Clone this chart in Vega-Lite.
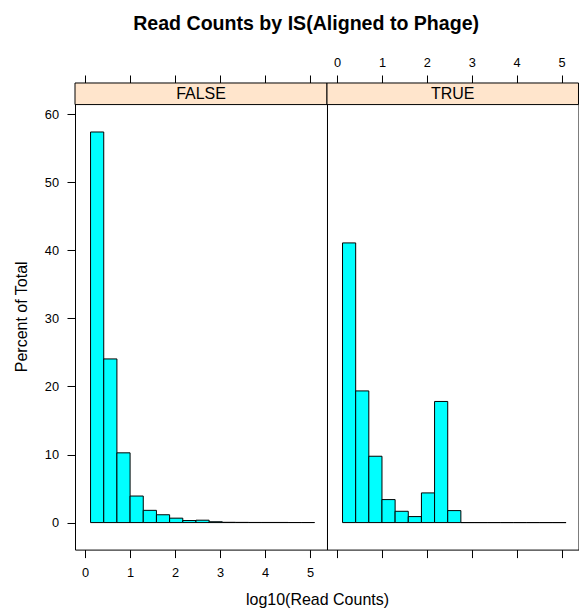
{
  "$schema": "https://vega.github.io/schema/vega-lite/v6.json",
  "padding": {"left": 12, "top": 13, "right": 0, "bottom": 0},
  "background": "white",
  "title": {"text": "Read Counts by IS(Aligned to Phage)", "font": "Liberation Sans", "fontSize": 19.6, "fontWeight": "bold", "color": "black", "anchor": "middle", "offset": 22, "dx": 6},
  "datasets": {
    "hist": [
      {"panel": "FALSE", "x0": 0.120, "x1": 0.413, "pct": 57.4},
      {"panel": "FALSE", "x0": 0.413, "x1": 0.706, "pct": 24.05},
      {"panel": "FALSE", "x0": 0.706, "x1": 0.999, "pct": 10.25},
      {"panel": "FALSE", "x0": 0.999, "x1": 1.292, "pct": 3.9},
      {"panel": "FALSE", "x0": 1.292, "x1": 1.585, "pct": 1.8},
      {"panel": "FALSE", "x0": 1.585, "x1": 1.878, "pct": 1.15},
      {"panel": "FALSE", "x0": 1.878, "x1": 2.171, "pct": 0.65},
      {"panel": "FALSE", "x0": 2.171, "x1": 2.464, "pct": 0.3},
      {"panel": "FALSE", "x0": 2.464, "x1": 2.757, "pct": 0.35},
      {"panel": "FALSE", "x0": 2.757, "x1": 3.050, "pct": 0.12},
      {"panel": "FALSE", "x0": 3.050, "x1": 3.343, "pct": 0.04},
      {"panel": "FALSE", "x0": 3.343, "x1": 3.636, "pct": 0.03},
      {"panel": "FALSE", "x0": 3.636, "x1": 3.929, "pct": 0.02},
      {"panel": "FALSE", "x0": 3.929, "x1": 4.222, "pct": 0.02},
      {"panel": "FALSE", "x0": 4.222, "x1": 4.515, "pct": 0.02},
      {"panel": "FALSE", "x0": 4.515, "x1": 4.808, "pct": 0.01},
      {"panel": "FALSE", "x0": 4.808, "x1": 5.101, "pct": 0.01},
      {"panel": "TRUE", "x0": 0.120, "x1": 0.413, "pct": 41.1},
      {"panel": "TRUE", "x0": 0.413, "x1": 0.706, "pct": 19.35},
      {"panel": "TRUE", "x0": 0.706, "x1": 0.999, "pct": 9.75},
      {"panel": "TRUE", "x0": 0.999, "x1": 1.292, "pct": 3.38},
      {"panel": "TRUE", "x0": 1.292, "x1": 1.585, "pct": 1.66},
      {"panel": "TRUE", "x0": 1.585, "x1": 1.878, "pct": 0.88},
      {"panel": "TRUE", "x0": 1.878, "x1": 2.171, "pct": 4.36},
      {"panel": "TRUE", "x0": 2.171, "x1": 2.464, "pct": 17.8},
      {"panel": "TRUE", "x0": 2.464, "x1": 2.757, "pct": 1.76},
      {"panel": "TRUE", "x0": 2.757, "x1": 3.050, "pct": 0},
      {"panel": "TRUE", "x0": 3.050, "x1": 3.343, "pct": 0},
      {"panel": "TRUE", "x0": 3.343, "x1": 3.636, "pct": 0},
      {"panel": "TRUE", "x0": 3.636, "x1": 3.929, "pct": 0},
      {"panel": "TRUE", "x0": 3.929, "x1": 4.222, "pct": 0},
      {"panel": "TRUE", "x0": 4.222, "x1": 4.515, "pct": 0},
      {"panel": "TRUE", "x0": 4.515, "x1": 4.808, "pct": 0},
      {"panel": "TRUE", "x0": 4.808, "x1": 5.101, "pct": 0}
    ],
    "strips": [{"panel": "FALSE"}, {"panel": "TRUE"}]
  },
  "spacing": 0,
  "bounds": "flush",
  "hconcat": [
    {
      "width": 252,
      "height": 466.6,
      "resolve": {"axis": {"x": "independent", "y": "independent"}},
      "layer": [
        {
          "data": {"name": "strips"},
          "transform": [{"filter": "datum.panel === 'FALSE'"}],
          "mark": {"type": "rect", "fill": "#ffe5cc", "stroke": "black", "strokeWidth": 1},
          "encoding": {
            "x": {"datum": -0.226, "type": "quantitative", "scale": {"domain": [-0.226, 5.378], "nice": false, "zero": false},
                  "axis": {"orient": "top", "values": [0, 1, 2, 3, 4, 5], "labels": false, "title": null, "ticks": true}},
            "x2": {"datum": 5.378},
            "y": {"datum": 61.43, "type": "quantitative", "scale": {"domain": [-3.97, 64.6], "nice": false, "zero": false}, "axis": null},
            "y2": {"datum": 64.6}
          }
        },
        {
          "data": {"name": "strips"},
          "transform": [{"filter": "datum.panel === 'FALSE'"}],
          "mark": {"type": "text", "font": "Liberation Sans", "fontSize": 16, "color": "black", "align": "center", "baseline": "middle"},
          "encoding": {
            "text": {"field": "panel"},
            "x": {"datum": 2.576, "type": "quantitative", "axis": null},
            "y": {"datum": 63.01, "type": "quantitative", "axis": null}
          }
        },
        {
          "data": {"name": "hist"},
          "transform": [{"filter": "datum.panel === 'FALSE'"}],
          "mark": {"type": "rect", "fill": "#00ffff", "stroke": "black", "strokeWidth": 1},
          "encoding": {
            "x": {"field": "x0", "type": "quantitative",
                  "axis": {"orient": "bottom", "values": [0, 1, 2, 3, 4, 5], "title": "log10(Read Counts)", "titleX": 242, "titlePadding": 12, "labelPadding": 9}},
            "x2": {"field": "x1"},
            "y": {"field": "pct", "type": "quantitative",
                  "axis": {"orient": "left", "values": [0, 10, 20, 30, 40, 50, 60], "title": "Percent of Total", "labelPadding": 8.5, "titlePadding": 15}},
            "y2": {"datum": 0}
          }
        }
      ]
    },
    {
      "width": 251.5,
      "height": 466.6,
      "resolve": {"axis": {"x": "independent", "y": "independent"}},
      "layer": [
        {
          "data": {"name": "strips"},
          "transform": [{"filter": "datum.panel === 'TRUE'"}],
          "mark": {"type": "rect", "fill": "#ffe5cc", "stroke": "black", "strokeWidth": 1},
          "encoding": {
            "x": {"datum": -0.226, "type": "quantitative", "scale": {"domain": [-0.226, 5.378], "nice": false, "zero": false},
                  "axis": {"orient": "bottom", "values": [0, 1, 2, 3, 4, 5], "labels": false, "title": null, "ticks": true}},
            "x2": {"datum": 5.378},
            "y": {"datum": 61.43, "type": "quantitative", "scale": {"domain": [-3.97, 64.6], "nice": false, "zero": false}, "axis": null},
            "y2": {"datum": 64.6}
          }
        },
        {
          "data": {"name": "strips"},
          "transform": [{"filter": "datum.panel === 'TRUE'"}],
          "mark": {"type": "text", "font": "Liberation Sans", "fontSize": 16, "color": "black", "align": "center", "baseline": "middle"},
          "encoding": {
            "text": {"field": "panel"},
            "x": {"datum": 2.576, "type": "quantitative", "axis": null},
            "y": {"datum": 63.01, "type": "quantitative", "axis": null}
          }
        },
        {
          "data": {"name": "hist"},
          "transform": [{"filter": "datum.panel === 'TRUE'"}],
          "mark": {"type": "rect", "fill": "#00ffff", "stroke": "black", "strokeWidth": 1},
          "encoding": {
            "x": {"field": "x0", "type": "quantitative",
                  "axis": {"orient": "top", "values": [0, 1, 2, 3, 4, 5], "title": null, "labelPadding": 5}},
            "x2": {"field": "x1"},
            "y": {"field": "pct", "type": "quantitative",
                  "axis": {"orient": "right", "values": [0, 10, 20, 30, 40, 50, 60], "labels": false, "title": null}},
            "y2": {"datum": 0}
          }
        }
      ]
    }
  ],
  "config": {
    "view": {"stroke": "black", "strokeWidth": 1},
    "axis": {
      "grid": false, "domain": false, "tickColor": "black", "tickSize": 8, "tickWidth": 1,
      "labelColor": "black", "labelFont": "Liberation Sans", "labelFontSize": 12.8, "labelFlush": false, "labelOverlap": false,
      "titleColor": "black", "titleFont": "Liberation Sans", "titleFontSize": 16, "titleFontWeight": "normal"
    }
  }
}
